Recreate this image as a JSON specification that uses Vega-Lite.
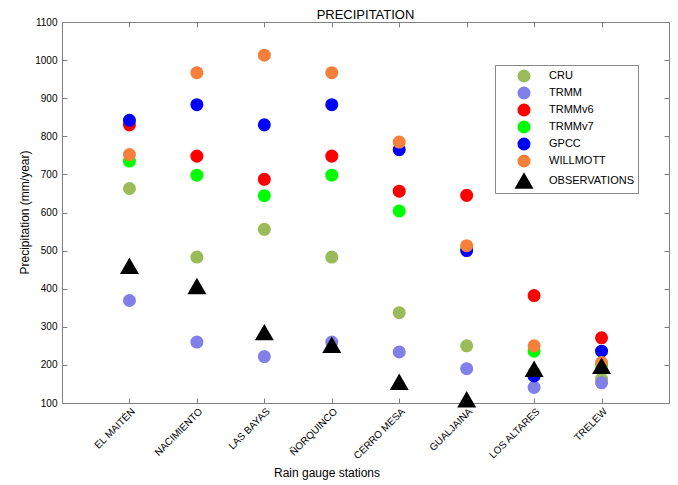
{
  "$schema": "https://vega.github.io/schema/vega-lite/v6.json",
  "autosize": {"type": "none"},
  "padding": {"left": 62, "top": 22, "right": 9, "bottom": 82},
  "width": 607,
  "height": 381,
  "background": "white",
  "config": {
    "font": "Liberation Sans",
    "view": {"stroke": null},
    "axis": {"grid": false, "domainColor": "#808080", "tickColor": "#808080", "labelColor": "#000000", "titleColor": "#000000", "titleFontWeight": "normal", "labelFontSize": 10, "titleFontSize": 12}
  },
  "title": {"text": "PRECIPITATION", "fontSize": 13, "fontWeight": "normal", "color": "#000000", "offset": -5},
  "data": {
    "values": [
      {"station": "EL MAITÉN", "source": "CRU", "value": 663},
      {"station": "NACIMIENTO", "source": "CRU", "value": 483},
      {"station": "LAS BAYAS", "source": "CRU", "value": 556},
      {"station": "ÑORQUINCO", "source": "CRU", "value": 483},
      {"station": "CERRO MESA", "source": "CRU", "value": 337},
      {"station": "GUALJAINA", "source": "CRU", "value": 250},
      {"station": "LOS ALTARES", "source": "CRU", "value": 180},
      {"station": "TRELEW", "source": "CRU", "value": 163},
      {"station": "EL MAITÉN", "source": "TRMM", "value": 369},
      {"station": "NACIMIENTO", "source": "TRMM", "value": 260},
      {"station": "LAS BAYAS", "source": "TRMM", "value": 222},
      {"station": "ÑORQUINCO", "source": "TRMM", "value": 260},
      {"station": "CERRO MESA", "source": "TRMM", "value": 234},
      {"station": "GUALJAINA", "source": "TRMM", "value": 190},
      {"station": "LOS ALTARES", "source": "TRMM", "value": 141},
      {"station": "TRELEW", "source": "TRMM", "value": 153},
      {"station": "EL MAITÉN", "source": "TRMMv6", "value": 830},
      {"station": "NACIMIENTO", "source": "TRMMv6", "value": 748},
      {"station": "LAS BAYAS", "source": "TRMMv6", "value": 687},
      {"station": "ÑORQUINCO", "source": "TRMMv6", "value": 748},
      {"station": "CERRO MESA", "source": "TRMMv6", "value": 656},
      {"station": "GUALJAINA", "source": "TRMMv6", "value": 645},
      {"station": "LOS ALTARES", "source": "TRMMv6", "value": 382},
      {"station": "TRELEW", "source": "TRMMv6", "value": 271},
      {"station": "EL MAITÉN", "source": "TRMMv7", "value": 735},
      {"station": "NACIMIENTO", "source": "TRMMv7", "value": 698},
      {"station": "LAS BAYAS", "source": "TRMMv7", "value": 644},
      {"station": "ÑORQUINCO", "source": "TRMMv7", "value": 698},
      {"station": "CERRO MESA", "source": "TRMMv7", "value": 604},
      {"station": "GUALJAINA", "source": "TRMMv7", "value": 505},
      {"station": "LOS ALTARES", "source": "TRMMv7", "value": 236},
      {"station": "TRELEW", "source": "TRMMv7", "value": 200},
      {"station": "EL MAITÉN", "source": "GPCC", "value": 842},
      {"station": "NACIMIENTO", "source": "GPCC", "value": 883},
      {"station": "LAS BAYAS", "source": "GPCC", "value": 830},
      {"station": "ÑORQUINCO", "source": "GPCC", "value": 883},
      {"station": "CERRO MESA", "source": "GPCC", "value": 765},
      {"station": "GUALJAINA", "source": "GPCC", "value": 500},
      {"station": "LOS ALTARES", "source": "GPCC", "value": 171},
      {"station": "TRELEW", "source": "GPCC", "value": 236},
      {"station": "EL MAITÉN", "source": "WILLMOTT", "value": 752},
      {"station": "NACIMIENTO", "source": "WILLMOTT", "value": 967},
      {"station": "LAS BAYAS", "source": "WILLMOTT", "value": 1013},
      {"station": "ÑORQUINCO", "source": "WILLMOTT", "value": 967},
      {"station": "CERRO MESA", "source": "WILLMOTT", "value": 785},
      {"station": "GUALJAINA", "source": "WILLMOTT", "value": 513},
      {"station": "LOS ALTARES", "source": "WILLMOTT", "value": 250},
      {"station": "TRELEW", "source": "WILLMOTT", "value": 206},
      {"station": "EL MAITÉN", "source": "OBSERVATIONS", "value": 460},
      {"station": "NACIMIENTO", "source": "OBSERVATIONS", "value": 407},
      {"station": "LAS BAYAS", "source": "OBSERVATIONS", "value": 286},
      {"station": "ÑORQUINCO", "source": "OBSERVATIONS", "value": 253},
      {"station": "CERRO MESA", "source": "OBSERVATIONS", "value": 156},
      {"station": "GUALJAINA", "source": "OBSERVATIONS", "value": 110},
      {"station": "LOS ALTARES", "source": "OBSERVATIONS", "value": 190},
      {"station": "TRELEW", "source": "OBSERVATIONS", "value": 198}
    ]
  },
  "layer": [
    {
      "mark": {"type": "point", "filled": true, "opacity": 1, "strokeWidth": 0},
      "encoding": {
        "x": {
          "field": "station", "type": "nominal",
          "sort": ["EL MAITÉN", "NACIMIENTO", "LAS BAYAS", "ÑORQUINCO", "CERRO MESA", "GUALJAINA", "LOS ALTARES", "TRELEW"],
          "scale": {"type": "point", "padding": 1},
          "axis": {"orient": "bottom", "title": "Rain gauge stations", "labelAngle": -45, "labelAlign": "right", "labelBaseline": "top", "tickSize": -5, "labelPadding": 8, "titleX": 264.5, "titleY": 73, "titleBaseline": "alphabetic", "titleAlign": "center"}
        },
        "y": {
          "field": "value", "type": "quantitative",
          "scale": {"domain": [100, 1100], "nice": false, "zero": false},
          "axis": {"orient": "left", "title": "Precipitation (mm/year)", "format": "d", "values": [100, 200, 300, 400, 500, 600, 700, 800, 900, 1000, 1100], "tickSize": -5, "labelPadding": 10, "labelFlush": false, "titleX": -34, "titleY": 190, "titleBaseline": "alphabetic", "titleAlign": "center"}
        },
        "color": {
          "field": "source", "type": "nominal",
          "scale": {"domain": ["CRU", "TRMM", "TRMMv6", "TRMMv7", "GPCC", "WILLMOTT", "OBSERVATIONS"], "range": ["#9BBB59", "#8080E8", "#FF0000", "#00FF00", "#0000FF", "#F6803A", "#000000"]},
          "legend": {
            "orient": "none", "legendX": 433, "legendY": 43, "title": null,
            "strokeColor": "#888888", "fillColor": "white", "padding": 4,
            "symbolOffset": 15.5, "labelOffset": 15.5, "labelFontSize": 11, "labelColor": "#000000",
            "rowPadding": 3, "symbolStrokeWidth": 0
          }
        },
        "shape": {
          "field": "source", "type": "nominal",
          "scale": {"domain": ["CRU", "TRMM", "TRMMv6", "TRMMv7", "GPCC", "WILLMOTT", "OBSERVATIONS"], "range": ["circle", "circle", "circle", "circle", "circle", "circle", "triangle-up"]}
        },
        "size": {
          "field": "source", "type": "nominal",
          "scale": {"type": "ordinal", "domain": ["CRU", "TRMM", "TRMMv6", "TRMMv7", "GPCC", "WILLMOTT", "OBSERVATIONS"], "range": [170, 170, 170, 170, 170, 170, 361]}
        }
      }
    },
    {
      "mark": {"type": "point", "opacity": 0},
      "encoding": {
        "x": {
          "field": "station", "type": "nominal",
          "sort": ["EL MAITÉN", "NACIMIENTO", "LAS BAYAS", "ÑORQUINCO", "CERRO MESA", "GUALJAINA", "LOS ALTARES", "TRELEW"],
          "axis": {"orient": "top", "title": null, "labels": false, "tickSize": -5}
        },
        "y": {
          "field": "value", "type": "quantitative",
          "axis": {"orient": "right", "title": null, "labels": false, "values": [100, 200, 300, 400, 500, 600, 700, 800, 900, 1000, 1100], "tickSize": -5}
        }
      }
    }
  ],
  "resolve": {"axis": {"x": "independent", "y": "independent"}}
}
